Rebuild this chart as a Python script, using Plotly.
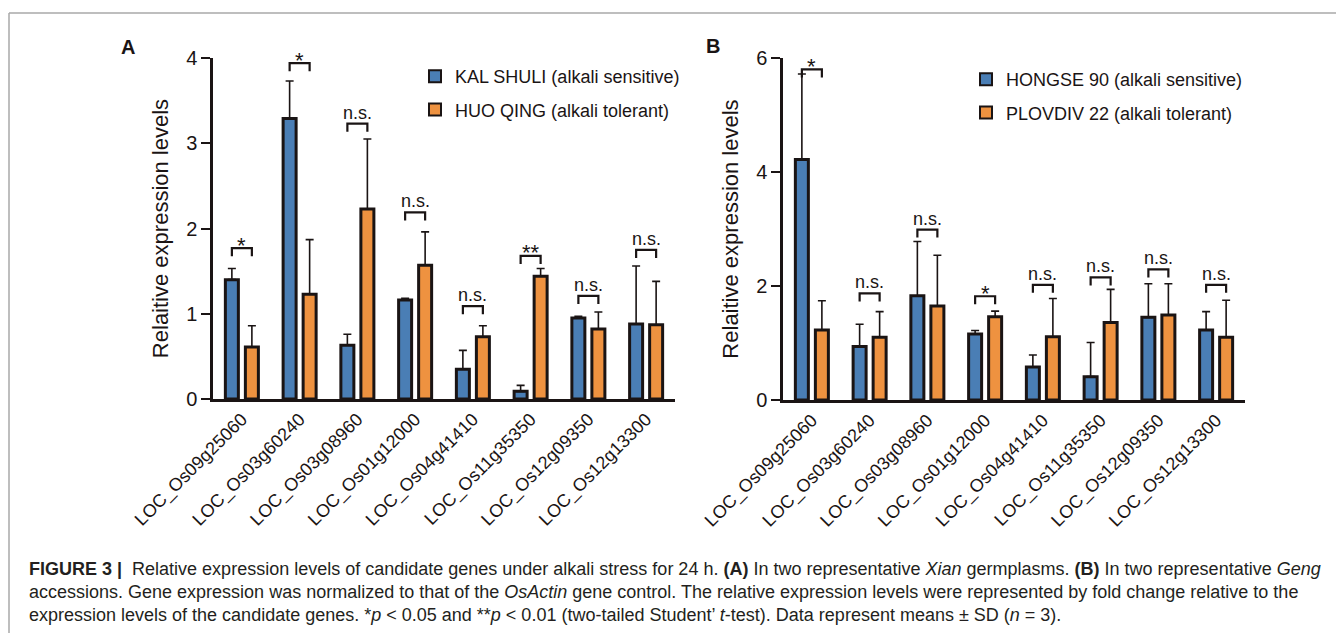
import plotly.graph_objects as go

# ---------------- data ----------------
genes = ["LOC_Os09g25060", "LOC_Os03g60240", "LOC_Os03g08960", "LOC_Os01g12000",
         "LOC_Os04g41410", "LOC_Os11g35350", "LOC_Os12g09350", "LOC_Os12g13300"]

a_sens_name = "KAL SHULI (alkali sensitive)"
a_tol_name = "HUO QING (alkali tolerant)"
a_sens = [1.40, 3.29, 0.63, 1.16, 0.35, 0.09, 0.95, 0.88]
a_sens_sd = [0.13, 0.44, 0.13, 0.02, 0.22, 0.07, 0.02, 0.68]
a_tol = [0.61, 1.23, 2.23, 1.57, 0.73, 1.44, 0.82, 0.87]
a_tol_sd = [0.25, 0.64, 0.82, 0.39, 0.13, 0.09, 0.20, 0.51]
a_sig = ["*", "*", "n.s.", "n.s.", "n.s.", "**", "n.s.", "n.s."]
a_bracket = [1.77, 3.94, 3.23, 2.19, 1.09, 1.68, 1.21, 1.75]

b_sens_name = "HONGSE 90 (alkali sensitive)"
b_tol_name = "PLOVDIV 22 (alkali tolerant)"
b_sens = [4.22, 0.94, 1.83, 1.16, 0.58, 0.41, 1.45, 1.23]
b_sens_sd = [1.50, 0.39, 0.95, 0.06, 0.21, 0.60, 0.59, 0.32]
b_tol = [1.23, 1.10, 1.65, 1.46, 1.11, 1.36, 1.49, 1.10]
b_tol_sd = [0.51, 0.45, 0.89, 0.10, 0.67, 0.58, 0.55, 0.65]
b_sig = ["*", "n.s.", "n.s.", "*", "n.s.", "n.s.", "n.s.", "n.s."]
b_bracket = [5.80, 1.87, 2.99, 1.82, 2.02, 2.15, 2.29, 2.02]

y_title = "Relaitive expression levels"
a_ticks = [0, 1, 2, 3, 4]
b_ticks = [0, 2, 4, 6]

# ---------------- style ----------------
OX, OY = 8, 8            # default page margin of the HTML body
W, H = 1344 - OX, 633 - OY
FONT = "Liberation Sans, Arial, sans-serif"
BLUE = "#4A7EB5"
ORANGE = "#EE9240"
INK = "#1a1414"
BRACKET_HALF = 0.173   # half distance between the two bar centres (category units)


def px(x):
    return (x - OX) / W


def py(y):
    return 1 - (y - OY) / H


fig = go.Figure()
xs = list(range(len(genes)))


def add_panel(xa, ya, legend, sens, sens_sd, tol, tol_sd, sens_name, tol_name,
              sig, bracket, tick_len):
    err_common = dict(type="data", symmetric=False, visible=True, color=INK,
                      thickness=1.6, width=4)
    fig.add_trace(go.Bar(
        x=xs, y=sens, name=sens_name, xaxis=xa, yaxis=ya, legend=legend,
        legendgroup=legend + "s",
        marker=dict(color=BLUE, line=dict(color=INK, width=3)),
        error_y=dict(array=sens_sd, arrayminus=[0] * len(sens), **err_common),
    ))
    fig.add_trace(go.Bar(
        x=xs, y=tol, name=tol_name, xaxis=xa, yaxis=ya, legend=legend,
        legendgroup=legend + "t",
        marker=dict(color=ORANGE, line=dict(color=INK, width=3)),
        error_y=dict(array=tol_sd, arrayminus=[0] * len(tol), **err_common),
    ))
    bx, by = [], []
    for i, h in enumerate(bracket):
        bx += [i - BRACKET_HALF, i - BRACKET_HALF, i + BRACKET_HALF, i + BRACKET_HALF, None]
        by += [h - tick_len, h, h, h - tick_len, None]
    fig.add_trace(go.Scatter(
        x=bx, y=by, mode="lines", xaxis=xa, yaxis=ya, showlegend=False,
        line=dict(color=INK, width=2.2), hoverinfo="skip", cliponaxis=False,
    ))
    for i, (h, s) in enumerate(zip(bracket, sig)):
        star = s.startswith("*")
        fig.add_annotation(
            x=i, y=h, xref=xa, yref=ya, text=s, showarrow=False,
            yanchor="middle", yshift=3 if star else 11,
            font=dict(size=22 if star else 18, color=INK, family=FONT),
        )


add_panel("x", "y", "legend", a_sens, a_sens_sd, a_tol, a_tol_sd,
          a_sens_name, a_tol_name, a_sig, a_bracket, 0.095)
add_panel("x2", "y2", "legend2", b_sens, b_sens_sd, b_tol, b_tol_sd,
          b_sens_name, b_tol_name, b_sig, b_bracket, 0.14)

xaxis_common = dict(
    range=[-0.5, len(genes) - 0.5], tickvals=xs, ticktext=genes, tickangle=-45,
    showline=True, linecolor=INK, linewidth=2.5, ticks="", showgrid=False,
    zeroline=False, tickfont=dict(size=18, color=INK, family=FONT), automargin=False,
)
yaxis_common = dict(
    showline=True, linecolor=INK, linewidth=2.5, ticks="outside", ticklen=9,
    tickwidth=2, tickcolor=INK, showgrid=False, zeroline=False,
    tickfont=dict(size=20, color=INK, family=FONT), automargin=False,
    title=dict(text=y_title, font=dict(size=22, color=INK, family=FONT), standoff=12),
)

legend_common = dict(
    font=dict(size=18, color=INK, family=FONT), bgcolor="rgba(0,0,0,0)",
    tracegroupgap=7, xanchor="left", yanchor="top", itemsizing="constant",
)

caption = [
    "<b>FIGURE 3</b> <b>|</b>  Relative expression levels of candidate genes under alkali stress for 24 h. "
    "<b>(A)</b> In two representative <i>Xian</i> germplasms. <b>(B)</b> In two representative <i>Geng</i>",
    "accessions. Gene expression was normalized to that of the <i>OsActin</i> gene control. "
    "The relative expression levels were represented by fold change relative to the",
    "expression levels of the candidate genes. *<i>p</i> &lt; 0.05 and **<i>p</i> &lt; 0.01 "
    "(two-tailed Student’ <i>t</i>-test). Data represent means ± SD (<i>n</i> = 3).",
]

annotations = list(fig.layout.annotations)
for k, line in enumerate(caption):
    annotations.append(dict(
        x=px(27), y=py(569 + 23 * k), xref="paper", yref="paper", text=line,
        showarrow=False, xanchor="left", yanchor="middle",
        font=dict(size=18, color="#231f20", family="Liberation Sans Narrow, Arial Narrow, Liberation Sans, sans-serif"),
    ))
annotations.append(dict(x=px(128), y=py(47), xref="paper", yref="paper", text="<b>A</b>",
                        showarrow=False, xanchor="center", yanchor="middle",
                        font=dict(size=20, color=INK, family=FONT)))
annotations.append(dict(x=px(713), y=py(46), xref="paper", yref="paper", text="<b>B</b>",
                        showarrow=False, xanchor="center", yanchor="middle",
                        font=dict(size=20, color=INK, family=FONT)))

fig.update_layout(
    width=W, height=H, margin=dict(l=0, r=0, t=0, b=0),
    paper_bgcolor="white", plot_bgcolor="white",
    barmode="group", bargap=0.307, bargroupgap=0.35,
    font=dict(family=FONT, color=INK),
    xaxis=dict(domain=[px(213), px(675)], anchor="y", **xaxis_common),
    yaxis=dict(domain=[py(399), py(58)], anchor="x", range=[0, 4], tickvals=a_ticks,
               **yaxis_common),
    xaxis2=dict(domain=[px(783), px(1245)], anchor="y2", **xaxis_common),
    yaxis2=dict(domain=[py(400), py(58)], anchor="x2", range=[0, 6], tickvals=b_ticks,
                **yaxis_common),
    legend=dict(x=px(415), y=py(58), **legend_common),
    legend2=dict(x=px(966), y=py(61), **legend_common),
    annotations=annotations,
    shapes=[
        dict(type="line", xref="paper", yref="paper", x0=px(9), x1=1.0, y0=py(13), y1=py(13),
             line=dict(color="#a8a8a8", width=1.5)),
        dict(type="line", xref="paper", yref="paper", x0=px(9), x1=px(9), y0=py(13), y1=0,
             line=dict(color="#a8a8a8", width=1.5)),
    ],
    showlegend=True,
)

fig.write_html("out.html")
